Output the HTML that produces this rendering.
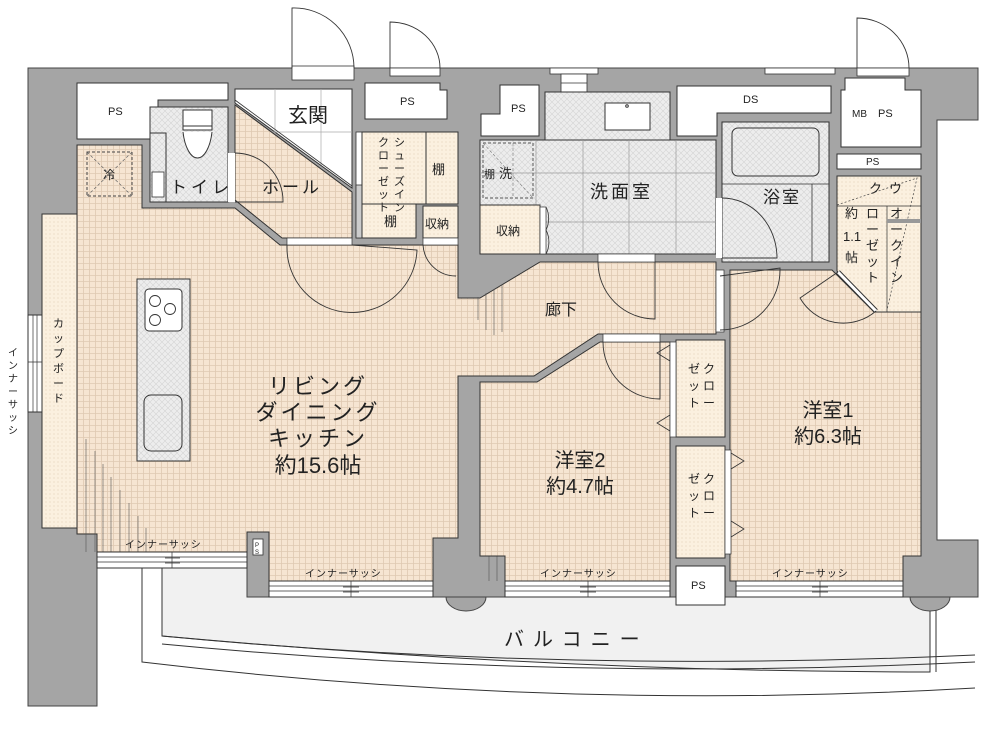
<!DOCTYPE html>
<html><head><meta charset="utf-8">
<style>
html,body{margin:0;padding:0;background:#fff;}
svg{display:block;}
text{font-family:"Liberation Sans","Noto Sans CJK JP",sans-serif;fill:#222;}
</style></head><body>
<svg width="1000" height="729" viewBox="0 0 1000 729" xmlns="http://www.w3.org/2000/svg">
<defs>
<pattern id="g" width="6" height="6" patternUnits="userSpaceOnUse">
<rect width="6" height="6" fill="#f6e5d2"/>
<path d="M5.5 0V6M0 5.5H6" stroke="#dfc9b2" stroke-width="0.8"/>
</pattern>
<pattern id="w" width="6" height="6" patternUnits="userSpaceOnUse">
<rect width="6" height="6" fill="#ededed"/>
<path d="M0 0L6 6M6 0L0 6" stroke="#d4d4d4" stroke-width="0.6"/>
</pattern>
<pattern id="d" width="4" height="4" patternUnits="userSpaceOnUse">
<rect width="4" height="4" fill="#fbf0df"/>
<circle cx="2" cy="2" r="0.6" fill="#e6d2b8"/>
</pattern>
</defs>

<path d="M162,568 H930 V672 Q560,672 162,636 Z" fill="#f1f1f1" stroke="#333" stroke-width="1"/>
<path d="M162,644 Q560,682 975,662" fill="none" stroke="#333" stroke-width="1"/>
<path d="M142,568 V662 Q560,712 975,688" fill="none" stroke="#333" stroke-width="1"/>
<path d="M162,636 Q560,674 975,655" fill="none" stroke="#333" stroke-width="1"/>
<line x1="936" y1="600" x2="936" y2="672" stroke="#333"/>
<line x1="930" y1="600" x2="930" y2="672" stroke="#333"/>

<path d="M28,68 H978 V120 H937 V540 H978 V597 H247 V568 H97 V706 H28 Z" fill="#a5a5a5" stroke="#444" stroke-width="1"/>
<path d="M446,597 A20,14 0 0 0 486,597 Z" fill="#a5a5a5" stroke="#444"/>
<path d="M910,597 A20,14 0 0 0 950,597 Z" fill="#a5a5a5" stroke="#444"/>

<rect x="292" y="66" width="62" height="14" fill="#fff" stroke="#333" stroke-width="0.8"/>
<rect x="390" y="68" width="50" height="8" fill="#fff" stroke="#333" stroke-width="0.8"/>
<rect x="857" y="68" width="52" height="8" fill="#fff" stroke="#333" stroke-width="0.8"/>
<rect x="765" y="68" width="70" height="6" fill="#fff" stroke="#333" stroke-width="0.8"/>
<rect x="550" y="68" width="48" height="6" fill="#fff" stroke="#333" stroke-width="0.8"/>
<rect x="561" y="74" width="26" height="18" fill="#fff" stroke="#333" stroke-width="0.8"/>
<line x1="561" y1="83" x2="587" y2="83" stroke="#333" stroke-width="0.8"/>
<path d="M292,68 V8 A60,60 0 0 1 354,68" fill="none" stroke="#333" stroke-width="0.9"/>
<path d="M390,68 V22 A50,46 0 0 1 440,68" fill="none" stroke="#333" stroke-width="0.9"/>
<path d="M857,68 V18 A52,50 0 0 1 909,68" fill="none" stroke="#333" stroke-width="0.9"/>

<path d="M77,83 H228 V100 H158 V139 H77 Z" fill="#fff" stroke="#333"/>
<text x="108" y="115" font-size="11">PS</text>
<path d="M365,83 H440 V90 H447 V119 H365 Z" fill="#fff" stroke="#333"/>
<text x="400" y="105" font-size="11">PS</text>
<path d="M500,85 H539 V136 H481 V114 H500 Z" fill="#fff" stroke="#333"/>
<text x="511" y="112" font-size="11">PS</text>
<path d="M677,86 H831 V113 H717 V136 H677 Z" fill="#fff" stroke="#333"/>
<text x="743" y="103" font-size="11">DS</text>
<path d="M845,78 H905 V90 H921 V147 H841 V90 H845 Z" fill="#fff" stroke="#333"/>
<text x="852" y="117" font-size="10">MB</text><text x="878" y="117" font-size="11">PS</text>
<rect x="837" y="154" width="84" height="15" fill="#fff" stroke="#333"/>
<text x="866" y="165" font-size="10">PS</text>

<path d="M235,89 H352 V188 L235,103 Z" fill="#fff" stroke="#333"/>
<path d="M275,89V132M321,89V165M235,132H352" stroke="#aaa" stroke-width="0.7"/>
<path d="M235,105 L352,192" stroke="#333" stroke-width="1"/>
<path d="M235,100 L352,186" stroke="#333" stroke-width="0.8"/>
<text x="288" y="122" font-size="20">玄関</text>

<path d="M77,145 H142 V208 H235 L280,245 H458 V298 H480 L540,262 H716 V334 H672 V334 H598 L534,376 H458 V538 H433 V581 H269 V532 H247 V552 H97 V534 H77 Z" fill="url(#g)" stroke="#333"/>
<path d="M235,105 L352,192 V238 H282 L235,200 Z" fill="url(#g)" stroke="#333"/>
<rect x="150" y="107" width="78" height="95" fill="url(#w)" stroke="#333"/>
<rect x="150" y="133" width="16" height="69" fill="url(#w)" stroke="#333"/>
<rect x="152" y="172" width="12" height="25" fill="#fff" stroke="#333" stroke-width="0.8"/>
<path d="M183,110 H212 V130 H183 Z M183,132 A15,35 0 0 0 212,132" fill="#fff" stroke="#333"/>
<path d="M183,126 H212" stroke="#333"/>
<text x="170" y="193" font-size="17" letter-spacing="4">トイレ</text>
<rect x="228" y="153" width="7" height="49" fill="#fff"/>
<path d="M235,153 A48,48 0 0 1 283,202 H235" fill="none" stroke="#333" stroke-width="0.9"/>
<text x="262" y="193" font-size="17" letter-spacing="3">ホール</text>
<rect x="87" y="152" width="45" height="44" fill="none" stroke="#444" stroke-dasharray="3,2"/>
<path d="M87,152L132,196M132,152L87,196" stroke="#666" stroke-dasharray="3,2" stroke-width="0.7"/>
<text x="103" y="179" font-size="12">冷</text>
<rect x="356" y="132" width="6" height="106" fill="#fff" stroke="#333" stroke-width="0.8"/>
<rect x="356" y="185" width="6" height="53" fill="#ccc" stroke="#333" stroke-width="0.8"/>
<rect x="362" y="132" width="64" height="72" fill="url(#d)" stroke="#333"/>
<rect x="426" y="132" width="32" height="72" fill="url(#d)" stroke="#333"/>
<rect x="362" y="204" width="54" height="34" fill="url(#d)" stroke="#333"/>
<rect x="423" y="206" width="35" height="32" fill="url(#d)" stroke="#333"/>
<text x="432" y="174" font-size="13">棚</text>
<text x="384" y="226" font-size="13">棚</text>
<text x="425" y="228" font-size="12">収納</text>
<g font-size="11">
<text x="394" y="146">シ</text><text x="394" y="159">ュ</text><text x="394" y="172">ー</text><text x="394" y="185">ズ</text><text x="394" y="198">イ</text><text x="394" y="211" >ン</text>
<text x="378" y="146">ク</text><text x="378" y="159">ロ</text><text x="378" y="172">ー</text><text x="378" y="185">ゼ</text><text x="378" y="198">ッ</text><text x="378" y="211">ト</text>
</g>
<rect x="287" y="238" width="65" height="7" fill="#fff" stroke="#333" stroke-width="0.7"/>
<path d="M287,245 A65,65 0 0 0 417,250 L352,245" fill="none" stroke="#333" stroke-width="0.9"/>
<rect x="423" y="238" width="35" height="7" fill="#fff" stroke="#333" stroke-width="0.7"/>
<path d="M423,245 A33,33 0 0 0 456,276" fill="none" stroke="#333" stroke-width="0.9"/>

<rect x="42" y="214" width="35" height="314" fill="url(#d)" stroke="#333"/>
<rect x="28" y="315" width="14" height="97" fill="#fff" stroke="#333"/>
<path d="M33,315V412M37,315V412M28,362H42" stroke="#333" stroke-width="0.7"/>
<g font-size="11"><text x="53" y="327">カ</text><text x="53" y="342">ッ</text><text x="53" y="357">プ</text><text x="53" y="372">ボ</text><text x="53" y="387">ー</text><text x="53" y="402">ド</text></g>
<g font-size="10"><text x="8" y="356">イ</text><text x="8" y="369">ン</text><text x="8" y="382">ナ</text><text x="8" y="395">ー</text><text x="8" y="408">サ</text><text x="8" y="421">ッ</text><text x="8" y="434">シ</text></g>

<rect x="137" y="279" width="53" height="182" fill="url(#w)" stroke="#333"/>
<rect x="145" y="289" width="37" height="42" rx="4" fill="#fff" stroke="#333"/>
<g fill="none" stroke="#333" stroke-width="0.9">
<circle cx="155" cy="301" r="5.5"/><circle cx="170" cy="309" r="5.5"/><circle cx="155" cy="320" r="5.5"/>
</g>
<rect x="144" y="395" width="38" height="56" rx="7" fill="url(#w)" stroke="#333"/>

<g stroke="#555" stroke-width="0.6">
<path d="M86,439V552M95,451V552M103,464V552M111,477V552M120,490V552M129,503V552M138,516V552M146,528V552"/>
<path d="M489,470V581M497,485V581M505,500V581M513,516V581M521,530V581M529,545V581"/>
<path d="M910,480V556M902,495V581M894,510V581M886,525V581M878,540V581M870,555V581"/>
<path d="M478,320V297M486,330V293M494,335V289M502,332V285"/>
</g>

<rect x="97" y="552" width="150" height="16" fill="#fff" stroke="#333"/>
<path d="M97,557H247M97,562H247M172,552V568M165,558H180M165,563H180" stroke="#333" stroke-width="0.7"/>
<rect x="269" y="581" width="164" height="16" fill="#fff" stroke="#333"/>
<path d="M269,586H433M269,591H433M351,581V597M343,587H359M343,592H359" stroke="#333" stroke-width="0.7"/>
<rect x="253" y="539" width="10" height="16" fill="#fff" stroke="#333" stroke-width="0.8"/>
<text x="255" y="547" font-size="6">P</text><text x="255" y="554" font-size="6">S</text>
<text x="125" y="548" font-size="10" letter-spacing="1">インナーサッシ</text>
<text x="305" y="577" font-size="10" letter-spacing="1">インナーサッシ</text>

<g font-size="22" text-anchor="middle">
<text x="318" y="394" letter-spacing="3">リビング</text>
<text x="318" y="420" letter-spacing="3">ダイニング</text>
<text x="318" y="446" letter-spacing="3">キッチン</text>
<text x="318" y="473">約15.6帖</text>
</g>

<rect x="545" y="92" width="125" height="48" fill="url(#w)" stroke="#333"/>
<rect x="605" y="103" width="45" height="27" fill="#fff" stroke="#333"/>
<circle cx="627" cy="106" r="1.3" fill="none" stroke="#333"/>
<rect x="480" y="140" width="236" height="114" fill="url(#w)" stroke="#333"/>
<path d="M536,140V254M583,140V254M629,140V254M676,140V254M480,173H716M480,222H716" stroke="#999" stroke-width="0.7"/>
<rect x="483" y="143" width="50" height="55" fill="none" stroke="#555" stroke-dasharray="3,2"/>
<path d="M513,143V198M483,143L533,198" stroke="#777" stroke-dasharray="3,2" stroke-width="0.6"/>
<text x="484" y="178" font-size="11">棚</text><text x="499" y="178" font-size="13">洗</text>
<rect x="480" y="205" width="60" height="49" fill="url(#d)" stroke="#333"/>
<text x="496" y="235" font-size="12">収納</text>
<rect x="540" y="207" width="6" height="47" fill="#fff" stroke="#333" stroke-width="0.7"/>
<path d="M546,207 A18,22 0 0 1 546,230 A18,22 0 0 1 546,254" fill="none" stroke="#333" stroke-width="0.8"/>
<text x="590" y="198" font-size="18" letter-spacing="3">洗面室</text>
<rect x="598" y="254" width="57" height="8" fill="#fff" stroke="#333" stroke-width="0.7"/>
<path d="M598,262 A57,57 0 0 0 655,319 V262" fill="none" stroke="#333" stroke-width="0.9"/>
<text x="545" y="315" font-size="16">廊下</text>

<rect x="722" y="122" width="107" height="140" fill="url(#w)" stroke="#333"/>
<rect x="732" y="128" width="87" height="48" rx="6" fill="url(#w)" stroke="#333"/>
<path d="M722,184H829M812,184V262" stroke="#333" stroke-width="0.8"/>
<rect x="716" y="198" width="6" height="60" fill="#fff"/>
<path d="M722,198 A55,60 0 0 1 777,258 H722" fill="none" stroke="#333" stroke-width="0.9"/>
<text x="763" y="203" font-size="17" letter-spacing="2">浴室</text>

<path d="M730,270 H832 L874,312 H921 V556 H903 V581 H730 Z" fill="url(#g)" stroke="#333"/>
<rect x="716" y="270" width="8" height="62" fill="#fff" stroke="#333" stroke-width="0.7"/>
<path d="M720,330 A60,60 0 0 0 780,268 L720,276" fill="none" stroke="#333" stroke-width="0.9"/>
<path d="M837,176 H921 V312 H876 L837,271 Z" fill="url(#d)" stroke="#333"/>
<path d="M837,206H921M887,206V312" stroke="#333" stroke-width="0.7"/>
<path d="M837,205L917,178L887,310" stroke="#444" stroke-dasharray="2,2" stroke-width="0.7" fill="none"/>
<rect x="887" y="219" width="34" height="4" fill="#999"/>
<path d="M838,272 L876,311" stroke="#333" stroke-width="5" stroke-linecap="butt"/>
<path d="M838,272 L876,311" stroke="#fff" stroke-width="3"/>
<path d="M838,272 L800,298 A50,50 0 0 0 876,311" fill="none" stroke="#333" stroke-width="0.9"/>
<g font-size="13"><text x="869" y="193">ク</text><text x="889" y="193">ウ</text>
<text x="845" y="218">約</text><text x="843" y="241">1.1</text><text x="845" y="262">帖</text>
<text x="866" y="218">ロ</text><text x="866" y="234">ー</text><text x="866" y="250">ゼ</text><text x="866" y="266">ッ</text><text x="866" y="282">ト</text>
<text x="890" y="218">オ</text><text x="890" y="234">ー</text><text x="890" y="250">ク</text><text x="890" y="266">イ</text><text x="890" y="282">ン</text></g>
<g font-size="20" text-anchor="middle"><text x="828" y="417">洋室1</text><text x="828" y="443">約6.3帖</text></g>

<path d="M480,382 H537 L600,342 H670 V581 H505 V556 H480 Z" fill="url(#g)" stroke="#333"/>
<rect x="603" y="334" width="57" height="8" fill="#fff" stroke="#333" stroke-width="0.7"/>
<path d="M603,342 A57,57 0 0 0 660,399 V342" fill="none" stroke="#333" stroke-width="0.9"/>
<g font-size="20" text-anchor="middle"><text x="580" y="467">洋室2</text><text x="580" y="493">約4.7帖</text></g>

<rect x="676" y="340" width="49" height="97" fill="url(#d)" stroke="#333"/>
<rect x="670" y="342" width="6" height="95" fill="#fff" stroke="#333" stroke-width="0.7"/>
<path d="M670,345 L657,353 L670,361 M670,415 L657,423 L670,431" fill="none" stroke="#333" stroke-width="0.8"/>
<rect x="676" y="446" width="49" height="112" fill="url(#d)" stroke="#333"/>
<rect x="725" y="450" width="6" height="104" fill="#fff" stroke="#333" stroke-width="0.7"/>
<path d="M731,453 L744,461 L731,469 M731,521 L744,529 L731,537" fill="none" stroke="#333" stroke-width="0.8"/>
<g font-size="12">
<text x="688" y="373">ゼ</text><text x="688" y="390">ッ</text><text x="688" y="407">ト</text>
<text x="703" y="373">ク</text><text x="703" y="390">ロ</text><text x="703" y="407">ー</text>
<text x="688" y="483">ゼ</text><text x="688" y="500">ッ</text><text x="688" y="517">ト</text>
<text x="703" y="483">ク</text><text x="703" y="500">ロ</text><text x="703" y="517">ー</text>
</g>
<rect x="676" y="566" width="49" height="39" fill="#fff" stroke="#333"/>
<text x="691" y="589" font-size="11">PS</text>

<rect x="505" y="581" width="165" height="16" fill="#fff" stroke="#333"/>
<path d="M505,586H670M505,591H670M588,581V597M580,587H596M580,592H596" stroke="#333" stroke-width="0.7"/>
<rect x="736" y="581" width="167" height="16" fill="#fff" stroke="#333"/>
<path d="M736,586H903M736,591H903M820,581V597M812,587H828M812,592H828" stroke="#333" stroke-width="0.7"/>
<text x="540" y="577" font-size="10" letter-spacing="1">インナーサッシ</text>
<text x="772" y="577" font-size="10" letter-spacing="1">インナーサッシ</text>

<text x="504" y="646" font-size="20" letter-spacing="9">バルコニー</text>
</svg>
</body></html>
